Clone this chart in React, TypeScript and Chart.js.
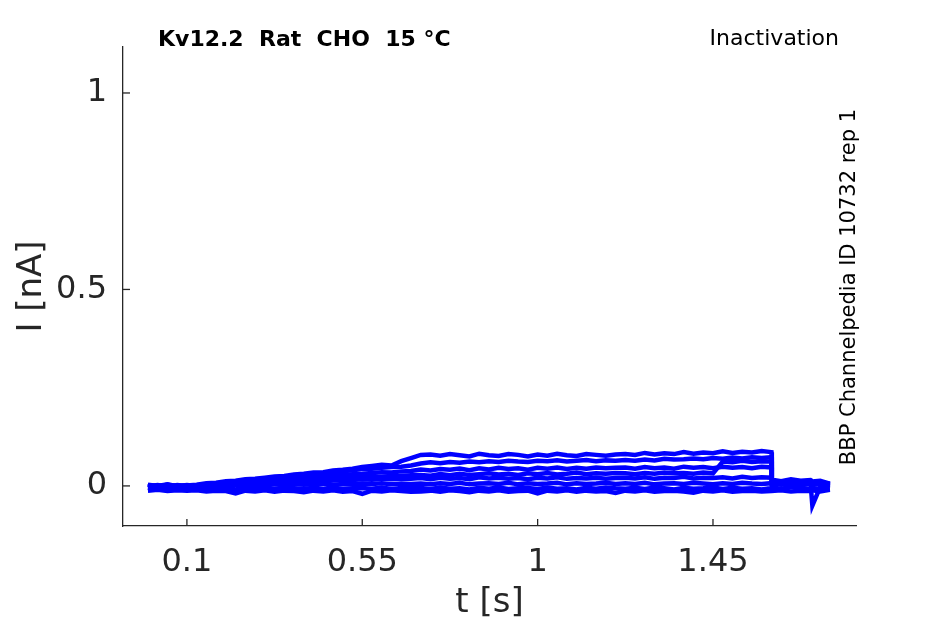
import React, { useEffect, useRef } from 'react';
import { Chart, registerables } from 'chart.js';

Chart.register(...registerables);

// sample times [s] (shared by all sweeps)
const T = [
  0, 0.025, 0.05, 0.075, 0.1, 0.125, 0.15, 0.175, 0.2, 0.225, 0.25, 0.275, 0.3, 0.325, 0.35, 0.375,
  0.4, 0.425, 0.45, 0.475, 0.5, 0.525, 0.55, 0.575, 0.6, 0.625, 0.65, 0.675, 0.7, 0.725, 0.75, 0.775,
  0.8, 0.825, 0.85, 0.875, 0.9, 0.925, 0.95, 0.975, 1, 1.025, 1.05, 1.075, 1.1, 1.125, 1.15, 1.175,
  1.2, 1.225, 1.25, 1.275, 1.3, 1.325, 1.35, 1.375, 1.4, 1.425, 1.45, 1.475, 1.5, 1.525, 1.55, 1.575,
  1.6, 1.601, 1.625, 1.65, 1.675, 1.7, 1.705, 1.725, 1.75,
];

// sweeps, current in pA
const sweepA = [
  2, -2, 3, -1, 1,
  3, 7, 8, 12, 13, 17, 18, 21, 24, 25, 29, 31, 34, 35, 39, 41, 44, 48,
  51, 54, 52, 63, 71,
  79, 80, 77, 81, 78, 75, 82, 78, 76, 81, 79, 75, 80, 77, 82, 78, 76, 81, 79, 77, 80,
  81, 79, 84, 80, 83, 81, 86, 82, 85, 83, 88, 84, 87, 85, 89, 86,
  14, 10, 15, 11, 13, -50, -3, 2,
];
const sweepB = [
  -2, 1, -3, 2, 0,
  2, 4, 7, 8, 12, 13, 17, 19, 21, 23, 26, 28, 31, 32, 35, 37, 40, 43,
  44, 46, 48, 49, 52,
  57, 60, 58, 61, 59, 62, 60, 63, 61, 64, 62, 61, 64, 63, 65, 62, 64, 66, 63, 65, 64,
  66, 64, 67, 65, 69, 67, 68, 70, 68, 71, 69, 72, 70, 73, 71, 73,
  11, 8, 12, 9, 11, 7, 9, 4,
];
const sweepC = [
  2, -1, 3, -2, 1,
  0, 3, 4, 7, 8, 10, 13, 13, 16, 17, 20, 21, 23, 25, 26, 28, 30, 31,
  33, 35, 34, 37, 38,
  42, 39, 43, 41, 44, 40, 45, 42, 46, 43, 45, 41, 46, 44, 47, 43, 46, 44, 47, 45, 46,
  47, 44, 48, 45, 47, 44, 49, 46, 48, 45, 49, 46, 48, 45, 49, 47,
  8, 5, 9, 4, 8, 5, 7, 1,
];
const sweepD = [
  -1, 2, -2, 1, -3,
  0, -1, 3, 2, 5, 6, 8, 8, 11, 11, 13, 14, 16, 17, 18, 20, 21, 22,
  24, 23, 26, 25, 27,
  28, 26, 30, 27, 31, 28, 30, 32, 29, 31, 28, 32, 30, 33, 29, 31, 34, 30, 32, 31, 33,
  32, 30, 33, 31, 34, 32, 33, 31, 34, 32, 62, 60, 64, 61, 63, 62,
  6, 9, 5, 10, 7, 9, 4, 6,
];
const sweepE = [
  3, 0, 4, -1, 2,
  0, 2, 1, 4, 3, 6, 5, 8, 7, 9, 10, 11, 12, 12, 14, 15, 15, 17,
  16, 18, 17, 19, 18,
  20, 17, 21, 18, 20, 17, 22, 19, 21, 18, 20, 17, 21, 19, 22, 18, 20, 19, 21, 18, 20,
  21, 19, 22, 18, 21, 20, 23, 19, 21, 20, 22, 19, 23, 20, 22, 21,
  16, 12, 17, 13, 15, 11, 13, 6,
];
const sweepF = [
  -3, 0, -2, 1, -2,
  0, -3, 1, -1, 2, 0, 3, 1, 4, 2, 5, 3, 4, 6, 3, 5, 4, 6,
  5, 7, 4, 6, 5,
  6, 4, 7, 5, 8, 4, 6, 7, 5, 8, 4, 7, 5, 6, 8, 4, 7, 5, 6, 8, 5,
  7, 5, 8, 4, 6, 7, 5, 8, 6, 4, 7, 5, 8, 6, 5, 7,
  6, 3, 7, 2, 5, 3, 4, -2,
];
const sweepG = [
  -5, -8, -4, -7, -5,
  -8, -4, -7, -5, -9, -4, -7, -5, -8, -4, -6, -8, -5, -7, -4, -8, -6, -5,
  -7, -4, -8, -5, -6,
  -5, -8, -4, -7, -6, -9, -5, -7, -4, -8, -6, -5, -8, -4, -7, -6, -9, -5, -7, -4, -6,
  -7, -5, -8, -4, -6, -9, -5, -7, -6, -4, -8, -5, -7, -6, -9, -5,
  -4, -7, -3, -6, -8, -5, -9, -6,
];
const sweepH = [
  -12, -10, -13, -11, -12,
  -11, -14, -12, -13, -19, -12, -14, -11, -15, -12, -13, -16, -12, -14, -11, -15, -13, -20,
  -12, -14, -11, -13, -15,
  -14, -12, -15, -11, -13, -16, -12, -14, -11, -15, -13, -12, -19, -12, -14, -11, -15, -12, -14, -13, -18,
  -12, -14, -11, -15, -13, -12, -14, -17, -12, -14, -11, -15, -13, -12, -14, -13,
  -13, -11, -14, -12, -13, -11, -14, -10,
];

const SWEEPS = [sweepA, sweepB, sweepC, sweepD, sweepE, sweepF, sweepG, sweepH];

const X_TICKS = [0.1, 0.55, 1, 1.45];
const Y_TICKS = [0, 0.5, 1];

const INK = '#262626';
const FONT = 'DejaVu Sans';

const App: React.FC = () => {
  const chartRef = useRef<HTMLCanvasElement>(null);

  useEffect(() => {
    if (!chartRef.current) return;

    // inward ticks + the loose texts round the axes
    const decor = {
      id: 'decor',
      afterDraw(chart: any) {
        const { ctx, chartArea, scales } = chart;
        ctx.save();
        ctx.strokeStyle = INK;
        ctx.lineWidth = 1.3;
        X_TICKS.forEach((v) => {
          const x = scales.x.getPixelForValue(v);
          ctx.beginPath();
          ctx.moveTo(x, chartArea.bottom);
          ctx.lineTo(x, chartArea.bottom - 7);
          ctx.stroke();
        });
        Y_TICKS.forEach((v) => {
          const y = scales.y.getPixelForValue(v);
          ctx.beginPath();
          ctx.moveTo(chartArea.left, y);
          ctx.lineTo(chartArea.left + 7, y);
          ctx.stroke();
        });

        ctx.fillStyle = '#000';
        ctx.textBaseline = 'middle';
        ctx.font = `bold 22px "${FONT}"`;
        ctx.textAlign = 'left';
        ctx.fillText('Kv12.2  Rat  CHO  15 °C', 158, 40);
        ctx.font = `22px "${FONT}"`;
        ctx.textAlign = 'right';
        ctx.fillText('Inactivation', 839, 39);

        ctx.translate(850, 287);
        ctx.rotate(-Math.PI / 2);
        ctx.textAlign = 'center';
        ctx.font = `21px "${FONT}"`;
        ctx.fillText('BBP Channelpedia ID 10732 rep 1', 0, 0);
        ctx.restore();
      },
    };

    const chart = new Chart(chartRef.current, {
      type: 'line',
      data: {
        datasets: SWEEPS.map((s) => ({
          data: s.map((pA, i) => ({ x: T[i], y: pA / 1000 })),
          borderColor: '#0000ff',
          borderWidth: 4.5,
          pointRadius: 0,
          tension: 0,
          fill: false,
        })),
      },
      options: {
        responsive: false,
        animation: false,
        layout: { padding: { top: 47, right: 89, left: 0, bottom: 0 } },
        plugins: {
          legend: { display: false },
          tooltip: { enabled: false },
        },
        scales: {
          x: {
            type: 'linear',
            min: -0.064,
            max: 1.817,
            afterFit: (s: any) => { s.height = 98; },
            afterBuildTicks: (s: any) => { s.ticks = X_TICKS.map((value) => ({ value })); },
            grid: { display: false, drawTicks: false },
            border: { display: true, color: INK, width: 1.3 },
            ticks: {
              color: INK,
              padding: 17,
              maxRotation: 0,
              font: { family: FONT, size: 32 },
              callback: (v: any) => `${v}`,
            },
            title: {
              display: true,
              text: 't [s]',
              color: INK,
              font: { family: FONT, size: 34 },
              padding: { top: 0, bottom: 0 },
            },
          },
          y: {
            type: 'linear',
            min: -0.102,
            max: 1.117,
            afterFit: (s: any) => { s.width = 123; },
            afterBuildTicks: (s: any) => { s.ticks = Y_TICKS.map((value) => ({ value })); },
            grid: { display: false, drawTicks: false },
            border: { display: true, color: INK, width: 1.3 },
            ticks: {
              color: INK,
              padding: 16,
              font: { family: FONT, size: 32 },
              callback: (v: any) => `${v}`,
            },
            title: {
              display: true,
              text: 'I [nA]',
              color: INK,
              font: { family: FONT, size: 34 },
              padding: { top: 12, bottom: 0 },
            },
          },
        },
      },
      plugins: [decor],
    });

    return () => chart.destroy();
  }, []);

  return (
    <div style={{ position: 'fixed', left: 0, top: 0, width: 945, height: 624, background: '#fff' }}>
      <canvas ref={chartRef} width={945} height={624} style={{ display: 'block' }}></canvas>
    </div>
  );
};

export default App;
